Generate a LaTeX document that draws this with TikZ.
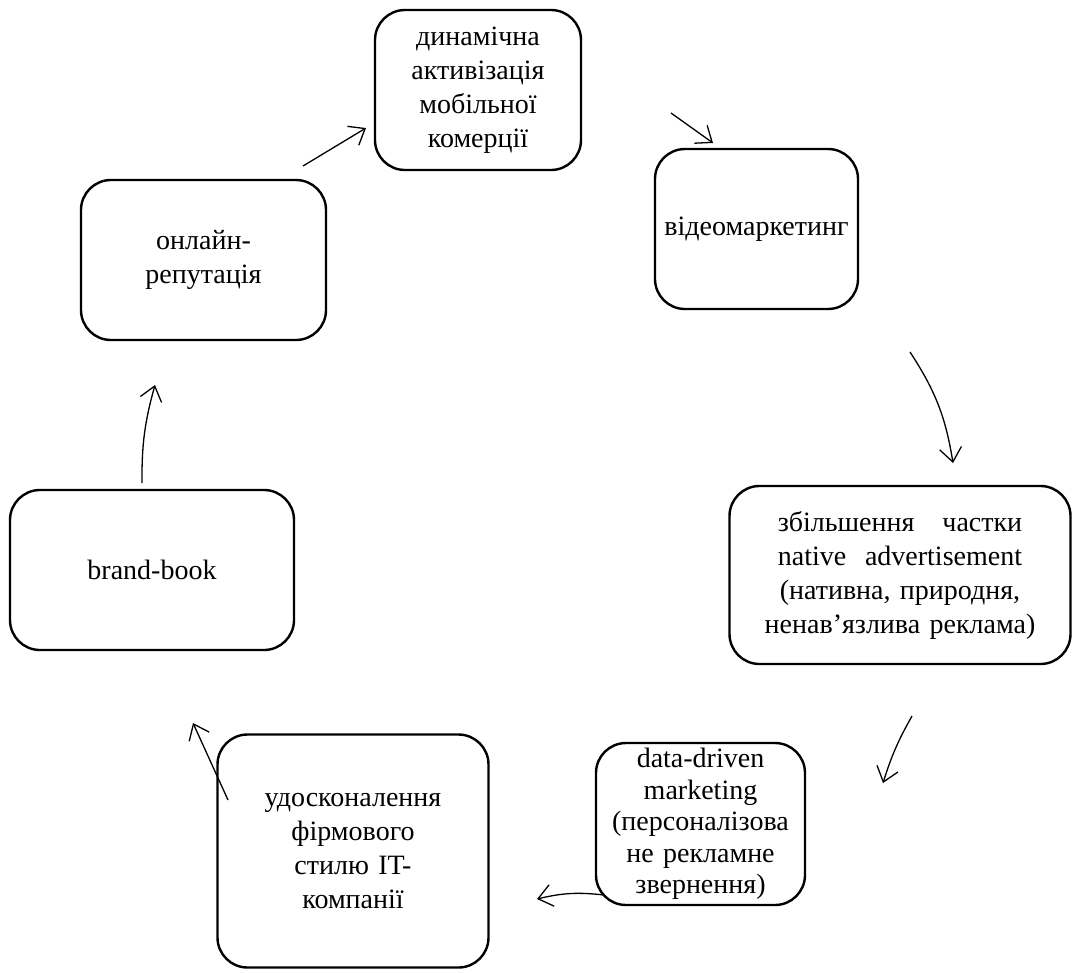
\documentclass[tikz,border=0pt]{standalone}
\usepackage{fontspec}
\setmainfont{Liberation Serif}
\usetikzlibrary{arrows.meta}
\begin{document}
\begin{tikzpicture}[x=1pt,y=-1pt,
  box/.style={draw,line width=2.4pt,rounded corners=30pt,align=center,font=\fontsize{28}{34}\selectfont},
  arr/.style={line width=1.3pt,-{Straight Barb[length=14pt,width=22pt,line width=1.3pt]}}]
\useasboundingbox (0,0) rectangle (1073,972);
\node[box,minimum width=206pt,minimum height=160pt,text width=195pt] (top) at (478,90)
  {динамічна\\активізація\\мобільної\\комерції};
\node[box,minimum width=203pt,minimum height=160pt,text width=195pt] (video) at (756.5,229)
  {відеомаркетинг};
\node[box,minimum width=341pt,minimum height=178pt,text width=330pt] (native) at (900,575)
  {збільшення\ \ \ частки\\native\ \ advertisement\\(нативна, природня,\\ненав’язлива реклама)};
\node[box,minimum width=209pt,minimum height=162pt,text width=200pt,
  font=\fontsize{28}{31.5}\selectfont] (data) at (700.5,824)
  {data-driven\\marketing\\(персоналізова\\не рекламне\\звернення)};
\node[box,minimum width=271pt,minimum height=233pt,text width=250pt] (style) at (353,851)
  {удосконалення\\фірмового\\стилю IT-\\компанії};
\node[box,minimum width=284pt,minimum height=160pt,text width=270pt] (brand) at (152,570)
  {brand-book};
\node[box,minimum width=245pt,minimum height=160pt,text width=230pt] (online) at (203.5,260)
  {онлайн-\\репутація};
\coordinate (a1s) at (303,166); \coordinate (a1e) at (366,128);
\coordinate (a2s) at (671,113); \coordinate (a2e) at (713,143);
\coordinate (a3s) at (910,352); \coordinate (a3e) at (953,463);
\coordinate (a4s) at (912,716); \coordinate (a4e) at (883,783);
\coordinate (a5s) at (604,895); \coordinate (a5e) at (537,899);
\coordinate (a6s) at (228,800); \coordinate (a6e) at (193,723);
\coordinate (a7s) at (142,483); \coordinate (a7e) at (155,385);
\draw[arr] (a1s) -- (a1e);
\draw[arr] (a2s) -- (a2e);
\draw[arr] (a3s) to[bend left=12] (a3e);
\draw[arr] (a4s) to[bend right=6] (a4e);
\draw[arr] (a5s) to[bend right=10] (a5e);
\draw[arr] (a6s) -- (a6e);
\draw[arr] (a7s) to[bend left=8] (a7e);
\end{tikzpicture}
\end{document}
